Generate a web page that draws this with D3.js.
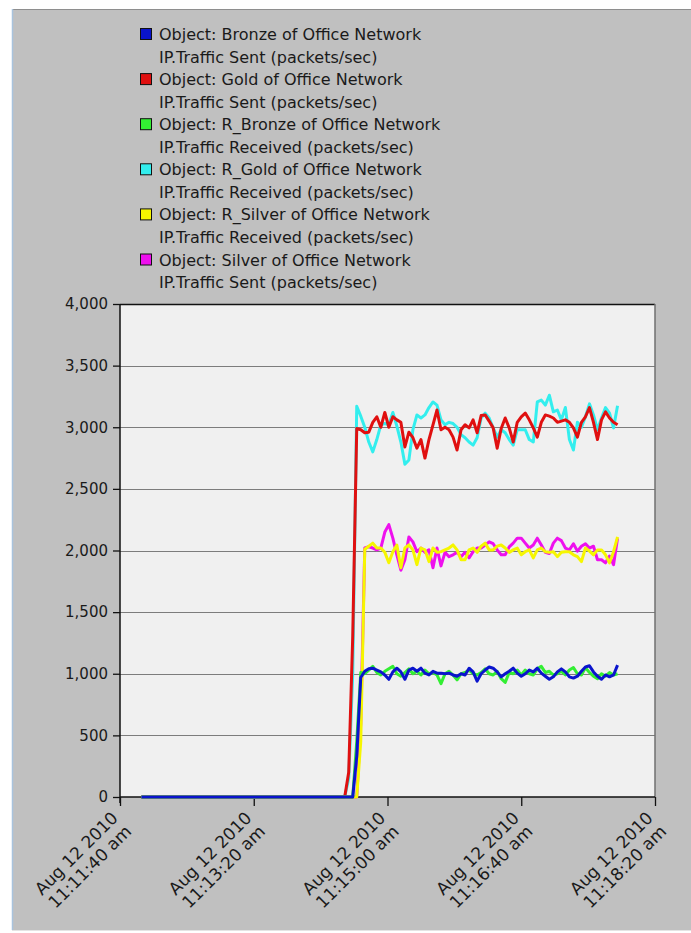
<!DOCTYPE html>
<html>
<head>
<meta charset="utf-8">
<script src="https://cdn.jsdelivr.net/npm/d3@7"></script>
<style>
  body { margin: 0; background: #ffffff; }
  svg { display: block; font-family: 'DejaVu Sans', sans-serif; }
</style>
</head>
<body>
<script>
const width = 691
const height = 933

// series, in legend order
const objects = ['Bronze', 'Gold', 'R_Bronze', 'R_Gold', 'R_Silver', 'Silver']
const metrics = [
  'IP.Traffic Sent (packets/sec)',
  'IP.Traffic Sent (packets/sec)',
  'IP.Traffic Received (packets/sec)',
  'IP.Traffic Received (packets/sec)',
  'IP.Traffic Received (packets/sec)',
  'IP.Traffic Sent (packets/sec)'
]

const color = d3.scaleOrdinal()
  .domain(objects)
  .range(['#0a14cc', '#e01010', '#33ee33', '#33eeee', '#f6f600', '#ee10ee'])

// tick labels
const xTickTimes = ['11:11:40', '11:13:20', '11:15:00', '11:16:40', '11:18:20']
const yTicks = [0, 500, 1000, 1500, 2000, 2500, 3000, 3500, 4000]

// sampling: first reading (0) at +16s, then one every 3s starting at +168s
const firstSec = 16
const rampSec = 168
const stepSec = 3

const bronze = [0, 0, 0, 330, 970,
  1020, 1040, 1045, 1030, 1015, 990, 955, 1015, 1045, 1015,
  955, 1030, 1045, 1020, 1045, 1005, 990, 1020, 1005, 1005,
  1000, 1005, 990, 980, 1000, 990, 1045, 1015, 940, 1000,
  1030, 1055, 1045, 1015, 975, 1000, 1020, 1045, 1005, 980,
  1000, 1030, 1015, 1045, 1005, 980, 955, 975, 1015, 1040,
  1015, 975, 965, 980, 1020, 1055, 1065, 1015, 980, 955,
  990, 975, 990, 1070]

const gold = [0, 200, 1300,
  2990, 2980, 2955, 2960, 3040, 3085, 3000, 3120, 3000, 3085,
  3060, 3040, 2840, 2960, 2915, 2830, 2900, 2750, 2900, 3020,
  3140, 2980, 3000, 2980, 2920, 2815, 2980, 3020, 2995, 3060,
  2955, 3095, 3100, 3050, 2995, 2830, 2990, 3075, 2995, 2880,
  3040, 3085, 3115, 3060, 2995, 2920, 3040, 3100, 3090, 3075,
  3040, 3050, 3060, 3040, 2995, 2920, 3040, 3085, 3160, 3040,
  2900, 3060, 3125, 3075, 3040, 3020]

const rBronze = [0, 0, 0, 450, 1010,
  1000, 1030, 1060, 1010, 990, 1020, 1040, 1060, 1000, 980,
  1010, 1040, 1000, 1020, 990, 1030, 1000, 1010, 990, 920,
  1000, 1020, 990, 950, 1000, 1010, 1030, 1000, 990, 1010,
  1040, 1000, 990, 1020, 960, 930, 1010, 1000, 1030, 990,
  1030, 1000, 990, 1040, 1060, 1010, 1020, 990, 1000, 1020,
  990, 1030, 1050, 1000, 990, 1050, 1010, 980, 960, 1000,
  980, 1010, 990, 1000]

const rGold = [0, 150, 1000,
  3170, 3090, 3000, 2880, 2800, 2900, 3020, 3030, 3020, 3120,
  3010, 2880, 2700, 2735, 2980, 3100, 3075, 3100, 3160, 3205,
  3180, 3060, 3020, 3040, 3030, 3000, 2940, 2915, 2880, 2855,
  2915, 3075, 3115, 3075, 2995, 2920, 2980, 2955, 2900, 2855,
  2980, 2980, 2980, 2900, 2880, 3205, 3220, 3180, 3260, 3125,
  3140, 3060, 3160, 2900, 2815, 3040, 3000, 3085, 3190, 3100,
  2980, 3075, 3160, 3115, 2995, 3175]

const rSilver = [0, 0, 0, 0, 450,
  2010, 2035, 2060, 2020, 2020, 1985, 1900, 1990, 2045, 1860,
  2020, 2045, 2005, 1885, 2020, 2005, 1910, 2020, 1985, 1990,
  2005, 2020, 2045, 2005, 1925, 1925, 2005, 2020, 1985, 2035,
  2060, 2005, 2005, 2035, 2045, 2020, 1985, 2005, 2020, 1965,
  1990, 2005, 1940, 2005, 2020, 1990, 1985, 1990, 1950, 1985,
  1990, 1990, 1965, 1950, 1910, 2020, 1995, 1965, 2005, 2005,
  1965, 1900, 1990, 2110]

const silver = [0, 0, 0, 0, 600,
  2020, 2030, 2020, 2005, 2020, 2150, 2210, 2100, 1965, 1840,
  1925, 2110, 2070, 1990, 2020, 1985, 2005, 1860, 2020, 1875,
  1985, 1950, 1965, 1985, 1950, 1985, 1940, 1990, 2020, 2020,
  2045, 2070, 2055, 2005, 1965, 1965, 2030, 2060, 2100, 2100,
  2060, 2020, 2045, 2100, 2045, 1985, 1975, 2060, 2100, 2080,
  2020, 2005, 2055, 1995, 2035, 2055, 2020, 2035, 1925, 1925,
  1900, 1955, 1885, 2100]

const values = {
  'Bronze': bronze, 'Gold': gold, 'R_Bronze': rBronze,
  'R_Gold': rGold, 'R_Silver': rSilver, 'Silver': silver
}
// drawing order (later on top)
const drawOrder = ['R_Gold', 'Gold', 'Silver', 'R_Silver', 'R_Bronze', 'Bronze']

const base = new Date(2010, 7, 12, 11, 11, 40)
const parseTime = d3.timeParse('%Y-%m-%d %H:%M:%S')
const xTicks = xTickTimes.map(s => parseTime('2010-08-12 ' + s))
const fmtDay = d3.timeFormat('%b %d %Y')
const fmtTime = d => d3.timeFormat('%I:%M:%S')(d) + ' ' + d3.timeFormat('%p')(d).toLowerCase()

const plot = { left: 120, right: 655, top: 304, bottom: 797 }

const x = d3.scaleTime()
  .domain([xTicks[0], xTicks[xTicks.length - 1]])
  .range([plot.left, plot.right])

const y = d3.scaleLinear()
  .domain([0, 4000])
  .range([plot.bottom, plot.top])

const svg = d3.select('body').append('svg').attr('width', width).attr('height', height)

svg.append('defs').append('clipPath').attr('id', 'panel-clip')
  .append('rect').attr('x', 13).attr('y', 10).attr('width', width - 13).attr('height', 920)

// gray window panel
svg.append('rect')
  .attr('x', 12).attr('y', 9).attr('width', width - 12).attr('height', 921)
  .attr('fill', '#c0c0c0')
svg.append('line')
  .attr('x1', 12).attr('x2', width).attr('y1', 9.5).attr('y2', 9.5)
  .attr('stroke', '#8e8e8e')
svg.append('line')
  .attr('x1', 12.5).attr('x2', 12.5).attr('y1', 9).attr('y2', 930)
  .attr('stroke', '#a9c3dd').attr('stroke-width', 1.5)
svg.append('line')
  .attr('x1', 12).attr('x2', width).attr('y1', 930.5).attr('y2', 930.5)
  .attr('stroke', '#e4e4e4')

const panel = svg.append('g').attr('clip-path', 'url(#panel-clip)')

// legend
const legend = panel.selectAll('g.legend')
  .data(objects)
  .join('g')
  .attr('class', 'legend')
  .attr('transform', (d, i) => `translate(140, ${40 + i * 2 * 22.55})`)

legend.append('rect')
  .attr('x', 0.5).attr('y', -11.5).attr('width', 11).attr('height', 11)
  .attr('fill', d => color(d))
  .attr('stroke', '#111').attr('stroke-width', 1)

legend.append('text')
  .attr('x', 19).attr('y', 0)
  .style('font-size', '16px').style('fill', '#1a1a1a')
  .text(d => `Object: ${d} of Office Network`)

legend.append('text')
  .attr('x', 19).attr('y', 22.55)
  .style('font-size', '16px').style('fill', '#1a1a1a')
  .text((d, i) => metrics[i])

// plot area
panel.append('rect')
  .attr('x', plot.left).attr('y', plot.top)
  .attr('width', plot.right - plot.left).attr('height', plot.bottom - plot.top)
  .attr('fill', '#f0f0f0')

panel.append('g')
  .selectAll('line')
  .data(yTicks.filter(d => d > 0 && d < 4000))
  .join('line')
  .attr('x1', plot.left).attr('x2', plot.right)
  .attr('y1', d => Math.round(y(d)) + 0.5).attr('y2', d => Math.round(y(d)) + 0.5)
  .attr('stroke', '#7c7c7c')

panel.append('line')
  .attr('x1', plot.left).attr('x2', plot.right)
  .attr('y1', plot.top + 0.5).attr('y2', plot.top + 0.5)
  .attr('stroke', '#111').attr('stroke-width', 1.5)
panel.append('line')
  .attr('x1', plot.right).attr('x2', plot.right)
  .attr('y1', plot.top).attr('y2', plot.bottom)
  .attr('stroke', '#707070').attr('stroke-width', 1.5)

// axes
const yAxis = panel.append('g')
  .attr('transform', `translate(${plot.left},0)`)
  .call(d3.axisLeft(y).tickValues(yTicks).tickFormat(d3.format(',')).tickSize(7).tickPadding(5))
yAxis.select('.domain').attr('stroke', '#111').attr('stroke-width', 1.5)
  .attr('d', `M0,${plot.top}V${plot.bottom + 6}`)
yAxis.selectAll('.tick line').attr('stroke', '#111').attr('stroke-width', 1.3)
yAxis.selectAll('.tick text')
  .style('font-size', '15px').style('font-family', "'DejaVu Sans', sans-serif")
  .attr('fill', '#1a1a1a')

const xAxis = panel.append('g')
  .attr('transform', `translate(0,${plot.bottom})`)
  .call(d3.axisBottom(x).tickValues(xTicks).tickFormat('').tickSize(9))
xAxis.select('.domain').attr('stroke', '#111').attr('stroke-width', 1.5)
  .attr('d', `M${plot.left},0H${plot.right}`)
xAxis.selectAll('.tick line').attr('stroke', '#111').attr('stroke-width', 1.3)

const xLabels = panel.selectAll('text.xlabel')
  .data(xTicks)
  .join('text')
  .attr('class', 'xlabel')
  .attr('transform', d => `translate(${x(d) - 1},819) rotate(-45)`)
  .style('font-size', '17px').style('fill', '#1a1a1a')
  .style('text-anchor', 'end')

xLabels.append('tspan').attr('x', 0).attr('y', 0).text(d => fmtDay(d))
xLabels.append('tspan').attr('x', 0).attr('y', 19).text(d => fmtTime(d))

// series lines
const line = d3.line()
  .x(d => x(d.time))
  .y(d => y(d.value))

const points = name => [{ time: d3.timeSecond.offset(base, firstSec), value: 0 }]
  .concat(values[name].map((v, i) => ({ time: d3.timeSecond.offset(base, rampSec + i * stepSec), value: v })))

panel.append('g')
  .selectAll('path.series')
  .data(drawOrder)
  .join('path')
  .attr('class', 'series')
  .attr('d', d => line(points(d)))
  .attr('fill', 'none')
  .attr('stroke', d => color(d))
  .attr('stroke-width', 3)
  .attr('stroke-linejoin', 'round')
</script>
</body>
</html>
